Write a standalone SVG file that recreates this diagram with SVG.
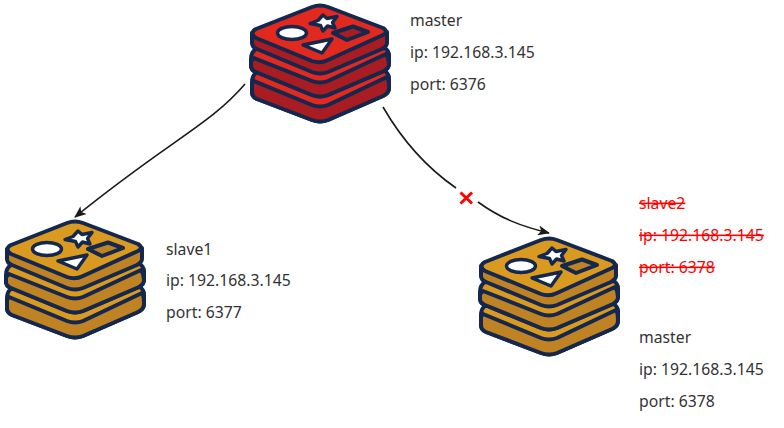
<svg xmlns="http://www.w3.org/2000/svg" xmlns:xlink="http://www.w3.org/1999/xlink" width="784" height="428" viewBox="0 0 784 428">
<style>
text{font-family:"Noto Sans","Open Sans",sans-serif;font-size:15.75px;fill:#333}
.del text{fill:#f00;text-decoration:line-through}
.o{stroke:#14284f;stroke-width:4;stroke-linejoin:round;stroke-linecap:round}
.top{fill:var(--top)}.side{fill:var(--side)}
.white{fill:#fff;stroke-width:3.4}
.c{fill:none;stroke:#1a1a1a;stroke-width:1.6}
.red{--top:#e1291f;--side:#a91d22}
.gold{--top:#da9a1f;--side:#c08324}
</style>
<defs>
<marker id="a" viewBox="0 0 12 10" refX="11" refY="5" markerWidth="12" markerHeight="10" markerUnits="userSpaceOnUse" orient="auto"><path d="M0 0L12 5L0 10L3 5Z" fill="#1a1a1a"/></marker>
<g id="stack">
<path class="o top" d="M256 73Q252 76 252 82V92Q252 97 257 99L312 120Q320 123 328 120L383 96Q389 93 389 88V78Q389 74 385 71L320 60Z"/>
<path class="o side" d="M254 81L312 105Q320 108 328 105L387 77Q389 80 389 88Q389 93 383 96L328 120Q320 123 312 120L257 99Q252 97 252 92V84Z"/>
<path class="o top" d="M256 49Q251 52 251 59V66Q251 70 256 72L312 95Q320 98 328 95L384 71Q389 68 389 64V55Q389 51 385 48L320 35Z"/>
<path class="o side" d="M254 58L312 81Q320 84 328 81L386 54Q389 58 389 64Q389 68 384 71L328 95Q320 98 312 95L256 72Q251 70 251 66V61Z"/>
<path class="o side" d="M252 33V43Q252 47 257 49L312 72Q320 75 328 72L382 49Q387 46 387 43V32L320 55Z"/>
<path class="o top" d="M256 29L312 7Q320 4 328 7L383 28Q389 32 383 35L328 60Q320 64 312 61L256 38Q249 33 256 29Z"/>
<ellipse class="o white" cx="292" cy="33" rx="14.500" ry="6.500"/>
<path class="o white" d="M323 15L327 18.500L337 16.500L332.500 22.500L335 28L327.500 26L323 31L320.500 25.500L310 23.500L318 20.500Z"/>
<path class="o side" d="M333 33L353 26.500L368 32L347 40Z"/>
<path class="o white" d="M303 45L332 39L322 53Z"/>
</g>
</defs>
<g id="connectors">
<path class="c" marker-end="url(#a)" d="M245 84C210 125 170 140 75 217"/>
<path class="c" d="M383 107C405 145 430 170 456 188"/>
<path class="c" marker-end="url(#a)" d="M478 202C500 218 520 226 549 233"/>
<path d="M460.500 192.500L472 203.500M472 192.500L460.500 203.500" fill="none" stroke="#f00" stroke-width="3"/>
</g>
<g id="master-node" class="red">
<use xlink:href="#stack" href="#stack"/>
<text x="410" y="26">master</text>
<text x="410" y="58">ip: 192.168.3.145</text>
<text x="410" y="90">port: 6376</text>
</g>
<g id="slave1-node" class="gold">
<use xlink:href="#stack" href="#stack" transform="translate(-245 216)"/>
<text x="166" y="255">slave1</text>
<text x="166" y="286">ip: 192.168.3.145</text>
<text x="166" y="318">port: 6377</text>
</g>
<g id="slave2-node" class="gold">
<use xlink:href="#stack" href="#stack" transform="translate(229 233)"/>
<g class="del">
<text x="639" y="209">slave2</text>
<text x="639" y="241">ip: 192.168.3.145</text>
<text x="639" y="273">port: 6378</text>
</g>
<text x="639" y="343">master</text>
<text x="639" y="375">ip: 192.168.3.145</text>
<text x="639" y="407">port: 6378</text>
</g>
</svg>
